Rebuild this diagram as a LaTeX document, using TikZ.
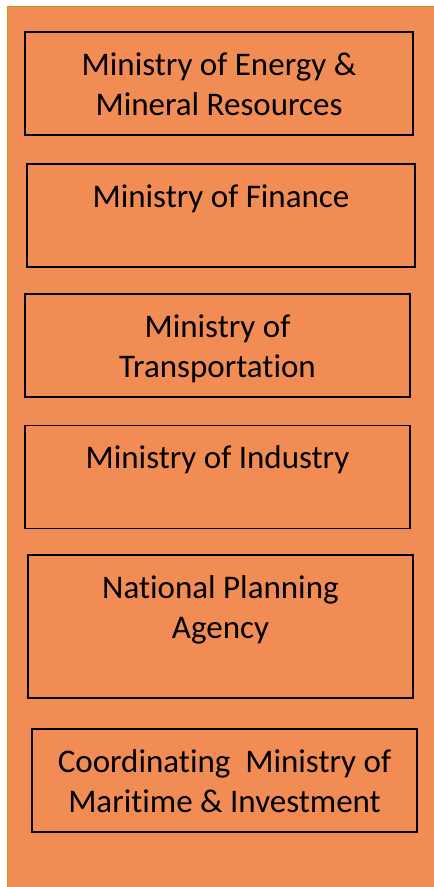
\documentclass[tikz,border=0pt]{standalone}
\usepackage{fontspec}
\setmainfont{Carlito}[Ligatures=NoCommon]
\usetikzlibrary{positioning}
\definecolor{panelorange}{RGB}{242,140,85}
\definecolor{panelrim}{RGB}{200,150,46}

% fixed line height so every box puts its first line at the same depth
\newcommand{\rowstrut}{\rule[-8.5pt]{0pt}{40pt}}

\begin{document}
\begin{tikzpicture}[x=1pt, y=-1pt,
    agency/.style={rectangle, draw=black, line width=1.3pt, fill=panelorange,
        minimum width=388pt, minimum height=103pt, inner sep=0pt, align=center,
        font=\fontsize{33}{40}\selectfont},
    panel/.style={draw=panelrim, line width=1pt, fill=panelorange}
]
\useasboundingbox (0,0) rectangle (434,887);

% Background panel
\fill[white] (0,0) rectangle (434,887);
\draw[panel] (7.5,6.5) rectangle (440,895);

% Agencies, top to bottom
\node[agency] (energy) at (219,83.5) {\rowstrut Ministry of Energy \&\\\rowstrut Mineral Resources};
\node[agency] (finance) at (221,215.5) {\rowstrut Ministry of Finance\\\rowstrut};
\node[agency, minimum width=385pt] (transport) at (217.5,345.5) {\rowstrut Ministry of\\\rowstrut Transportation};
\node[agency, minimum width=385pt] (industry) at (217.5,477) {\rowstrut Ministry of Industry\\\rowstrut};
\node[agency, minimum width=385pt, minimum height=143pt] (planning) at (220.5,626.5) {\rowstrut National Planning\\\rowstrut Agency\\\rowstrut};
\node[agency, minimum width=385pt] (maritime) at (224.5,780.5) {\rowstrut Coordinating~ Ministry of\\\rowstrut Maritime \& Investment};

\end{tikzpicture}
\end{document}
